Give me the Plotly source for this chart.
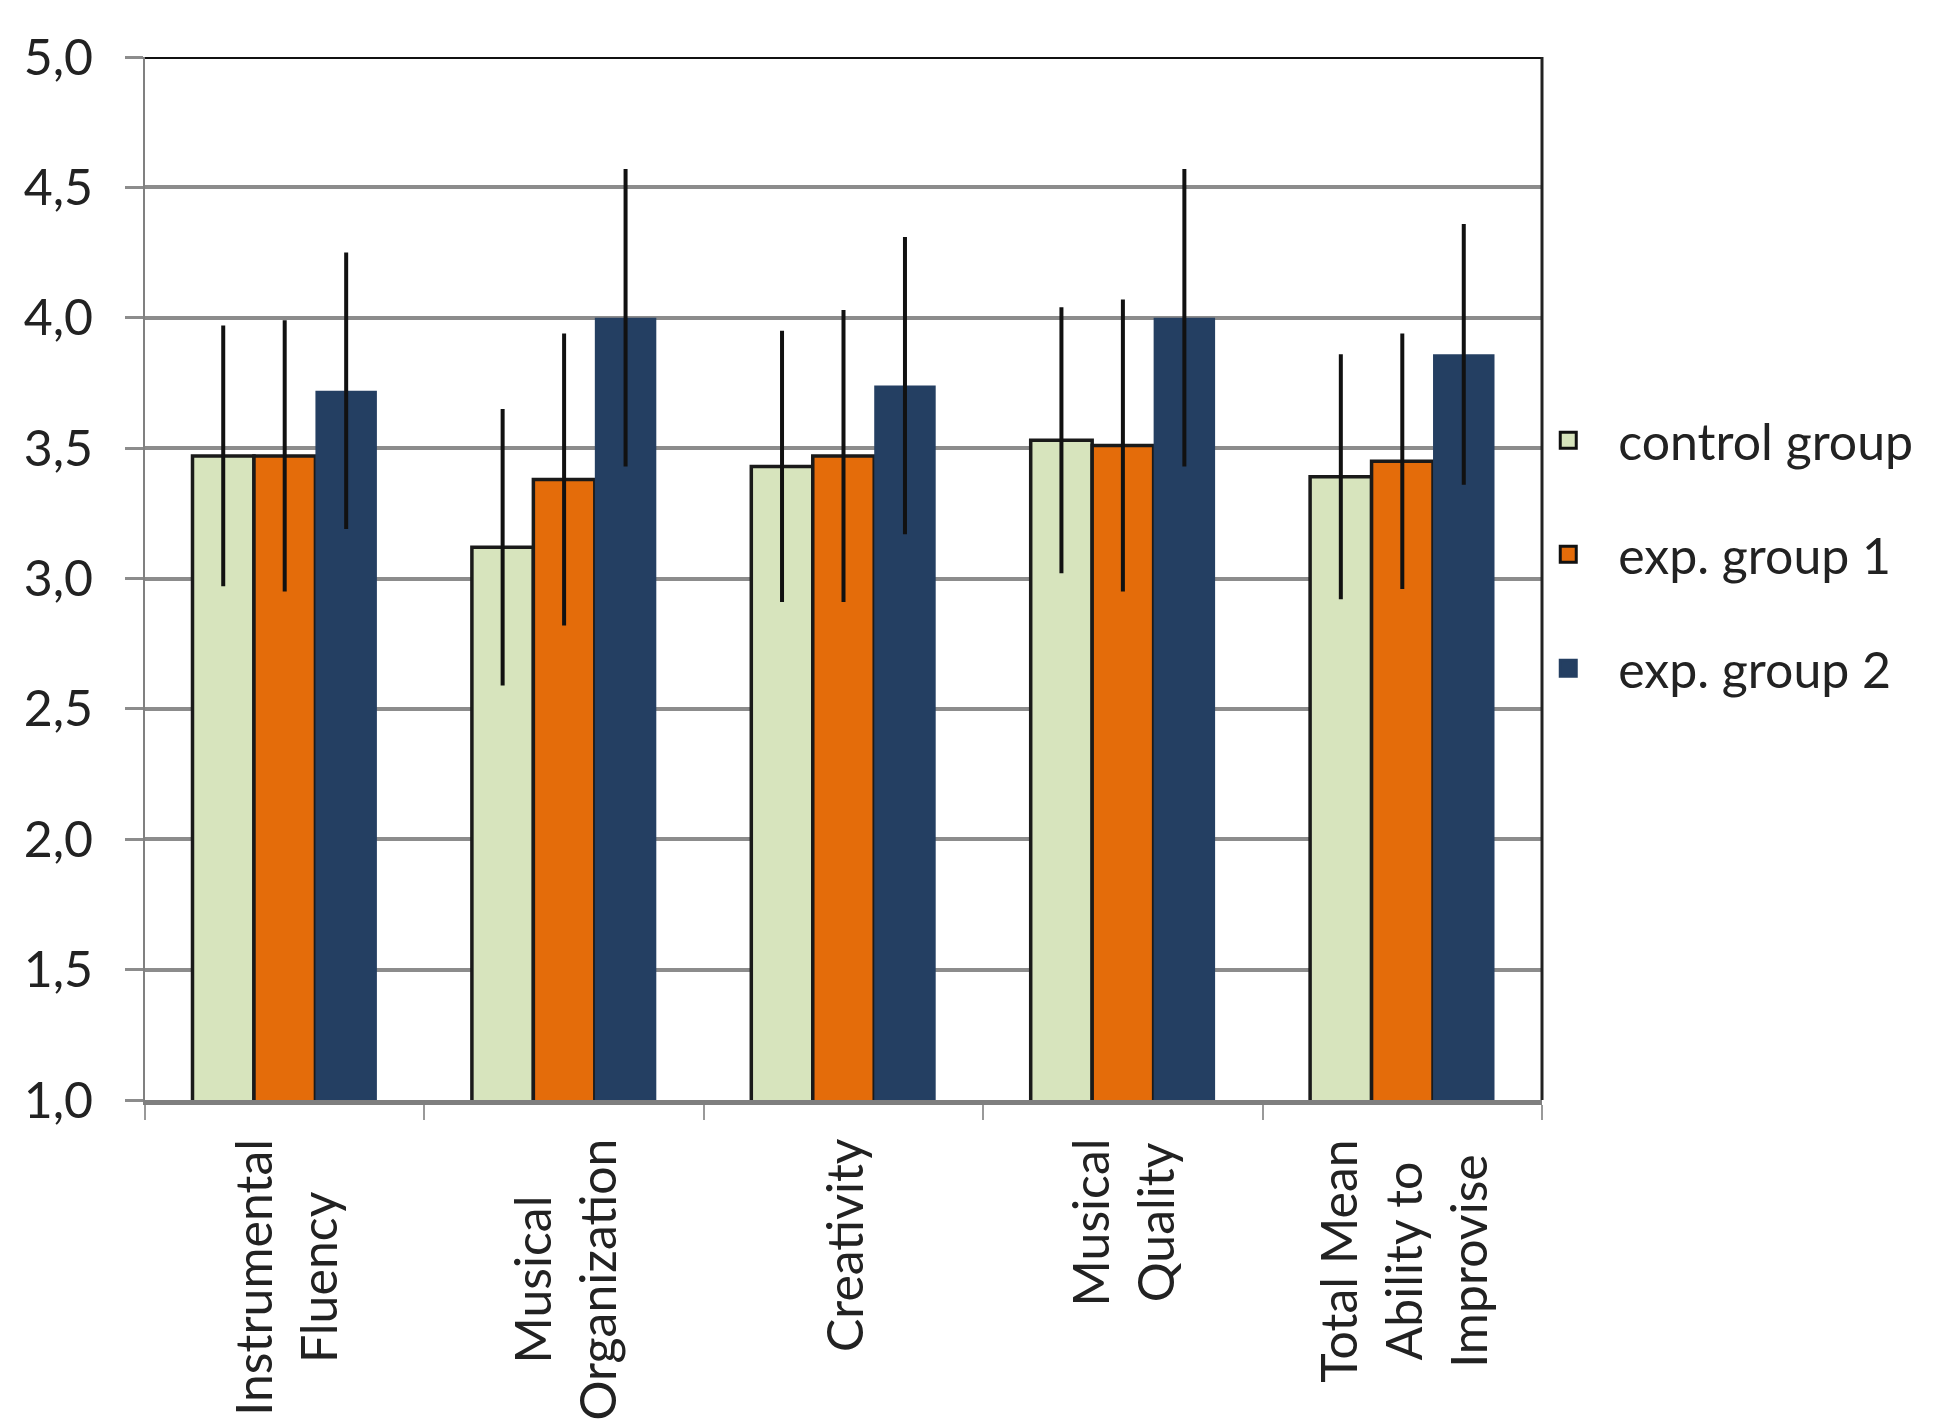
import plotly.graph_objects as go

# categories and group names
categories = ["Instrumental<br>Fluency", "Musical<br>Organization", "Creativity",
              "Musical<br>Quality", "Total Mean<br>Ability to<br>Improvise"]
cat_keys = ["Instrumental Fluency", "Musical Organization", "Creativity",
            "Musical Quality", "Total Mean Ability to Improvise"]
groups = ["control group", "exp. group 1", "exp. group 2"]

# means
control_mean = [3.47, 3.12, 3.43, 3.53, 3.39]
exp1_mean = [3.47, 3.38, 3.47, 3.51, 3.45]
exp2_mean = [3.72, 4.00, 3.74, 4.00, 3.86]

# error bar half-lengths (standard deviations)
control_sd = [0.50, 0.53, 0.52, 0.51, 0.47]
exp1_sd = [0.52, 0.56, 0.56, 0.56, 0.49]
exp2_sd = [0.53, 0.57, 0.57, 0.57, 0.50]

colors = ["#D7E4BD", "#E46C0A", "#243F62"]
outlines = ["#1a1a1a", "#1a1a1a", "#243F62"]
outline_w = [3.5, 3.5, 0]

FONT = "Lato"
FS = 50

fig = go.Figure()

means = [control_mean, exp1_mean, exp2_mean]
sds = [control_sd, exp1_sd, exp2_sd]
for i, name in enumerate(groups):
    fig.add_trace(go.Bar(
        x=cat_keys, y=means[i], name=name, showlegend=False,
        marker=dict(color=colors[i], line=dict(color=outlines[i], width=outline_w[i])),
        error_y=dict(type="data", array=sds[i], color="#111111", thickness=4, width=0),
    ))
    # legend-only marker so the swatch can be bigger than the bar default
    fig.add_trace(go.Scatter(
        x=[None], y=[None], mode="markers", name=name, legendgroup=name,
        marker=dict(symbol="square", size=16, color=colors[i],
                    line=dict(color="#111111" if i < 2 else colors[i], width=3)),
    ))

# category labels, rotated, lines centred like the original
for key, lab in zip(cat_keys, categories):
    fig.add_annotation(x=key, xref="x", y=-0.035, yref="paper", text=lab,
                       showarrow=False, textangle=-90, align="center",
                       xanchor="center", yanchor="top",
                       font=dict(family=FONT, size=FS, color="#222222"))

# top and right border of the plot box
fig.add_shape(type="line", xref="paper", yref="y", x0=0, x1=1, y0=5, y1=5,
              line=dict(color="#111111", width=4))
fig.add_shape(type="line", xref="paper", yref="y", x0=1, x1=1, y0=1, y1=5,
              line=dict(color="#222222", width=3))

fig.update_layout(
    width=1940, height=1427,
    margin=dict(l=137, r=406, t=49, b=335),
    paper_bgcolor="white", plot_bgcolor="white",
    barmode="group", bargap=0.34, bargroupgap=0,
    separators=",.",
    font=dict(family=FONT, size=FS, color="#222222"),
    legend=dict(x=0.983, xanchor="left", y=0.670, yanchor="top",
                traceorder="grouped", tracegroupgap=46,
                bgcolor="rgba(0,0,0,0)",
                font=dict(family=FONT, size=FS, color="#222222"),
                itemwidth=90),
)
fig.update_xaxes(showline=True, linecolor="#7f7f7f", linewidth=5,
                 ticks="outside", tickson="boundaries", ticklen=15, tickwidth=2,
                 tickcolor="#999999", showticklabels=False, showgrid=False)
fig.update_yaxes(range=[1, 5], dtick=0.5, tickformat=".1f",
                 showgrid=True, gridcolor="#8c8c8c", gridwidth=4,
                 showline=True, linecolor="#808080", linewidth=2,
                 ticks="outside", ticklen=18, tickwidth=3, tickcolor="#8c8c8c",
                 ticklabelstandoff=22, zeroline=False,
                 tickfont=dict(family=FONT, size=FS, color="#222222"))

fig.write_html("out.html")
